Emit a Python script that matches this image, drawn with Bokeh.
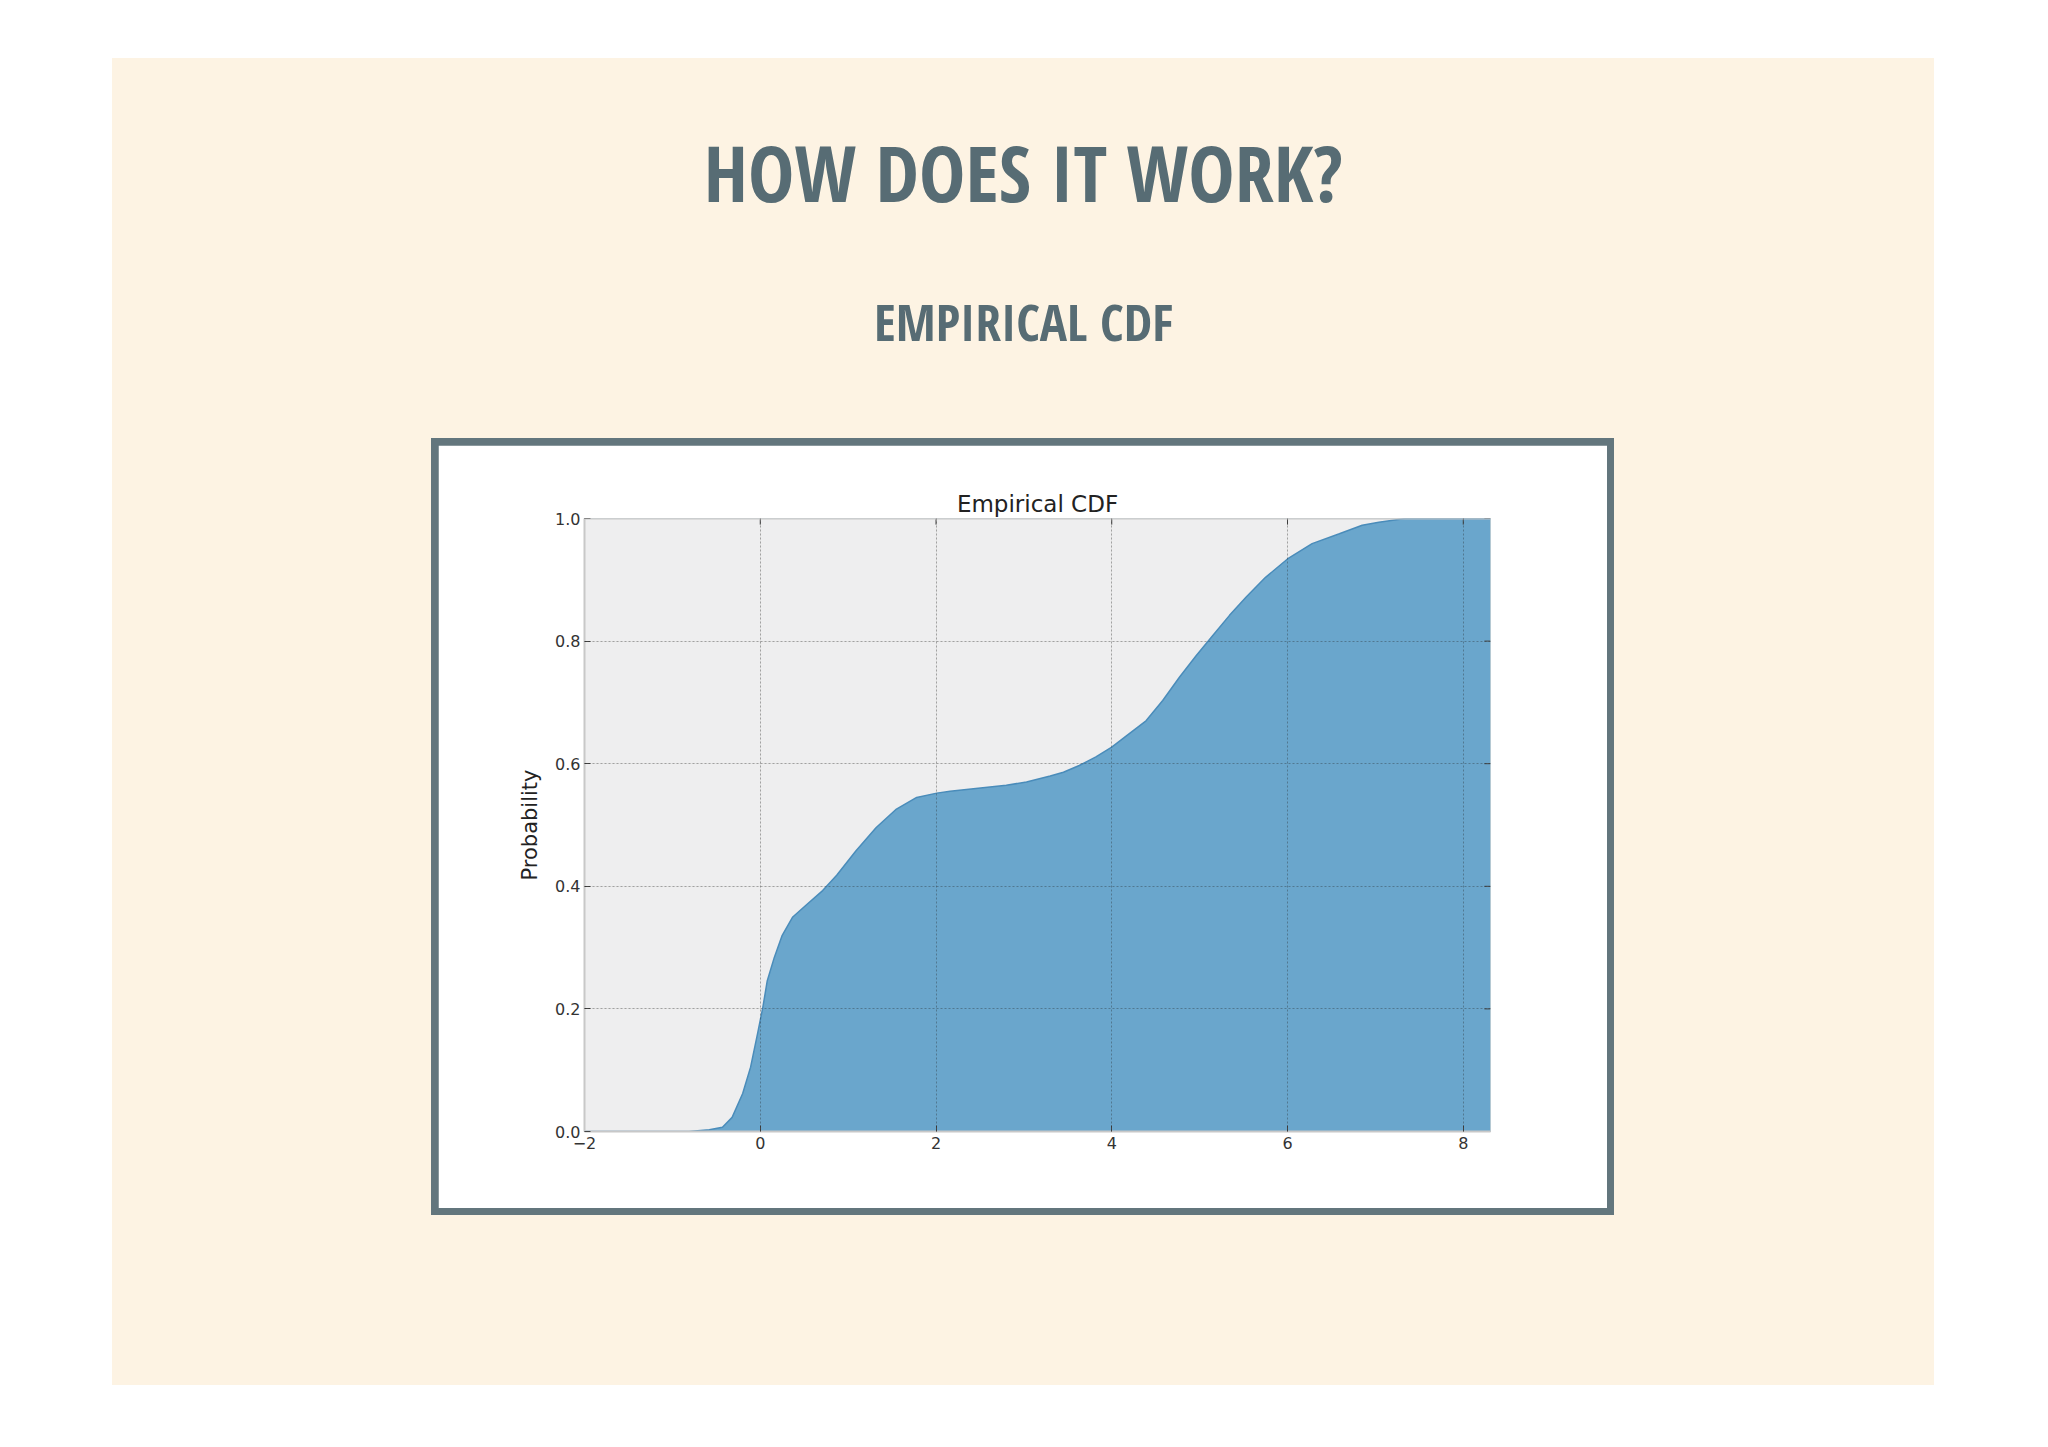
from bokeh.plotting import figure
from bokeh.models import Range1d, FixedTicker, LinearAxis, Title, Spacer, Grid, Span
from bokeh.layouts import column, row
from bokeh.core.properties import value
from bokeh.embed import file_html
from bokeh.resources import INLINE

# ---- data ----
cdf_x = [-2.0, -0.81, -0.58, -0.43, -0.32, -0.20, -0.11, -0.03, 0.03, 0.08,
         0.16, 0.25, 0.37, 0.52, 0.71, 0.87, 1.09, 1.32, 1.55, 1.78,
         2.01, 2.16, 2.48, 2.8, 3.03, 3.3, 3.45, 3.63, 3.82, 4.0,
         4.2, 4.39, 4.58, 4.77, 4.96, 5.15, 5.34, 5.53, 5.75, 6.0,
         6.28, 6.59, 6.85, 7.04, 7.34, 8.31]
cdf_y = [0.0, 0.0, 0.003, 0.007, 0.023, 0.062, 0.105, 0.16, 0.203, 0.246,
         0.284, 0.32, 0.35, 0.369, 0.393, 0.418, 0.458, 0.496, 0.526, 0.545,
         0.552, 0.555, 0.56, 0.565, 0.57, 0.58, 0.586, 0.597, 0.611, 0.627,
         0.649, 0.670, 0.703, 0.741, 0.776, 0.809, 0.842, 0.872, 0.904, 0.934,
         0.959, 0.975, 0.989, 0.994, 1.0, 1.0]
x_ticks = [-2, 0, 2, 4, 6, 8]
x_tick_labels = ["\u22122", "0", "2", "4", "6", "8"]
y_ticks = [0.0, 0.2, 0.4, 0.6, 0.8, 1.0]
y_tick_labels = ["0.0", "0.2", "0.4", "0.6", "0.8", "1.0"]
slide_title = "HOW DOES IT WORK?"
slide_subtitle = "EMPIRICAL CDF"
chart_title = "Empirical CDF"
y_label = "Probability"

X_MIN, X_MAX = -2, 8.31
Y_MIN, Y_MAX = 0, 1

CREAM = "#fdf3e3"
SLATE = "#576c74"
FRAME = "#63767d"
FILL = "#6aa6cc"
EDGE = "#4a8cba"
CONDENSED = value("Open Sans Condensed")

# ---- header with slide titles ----
W_SLIDE, H_SLIDE = 1822, 1327
H_HEAD = 380
head = figure(width=W_SLIDE, height=H_HEAD, output_backend="svg", toolbar_location=None,
              x_range=Range1d(0, W_SLIDE), y_range=Range1d(H_HEAD, 0),
              min_border=0, outline_line_color=None,
              background_fill_color=CREAM, border_fill_color=CREAM)
head.axis.visible = False
head.grid.visible = False
head.text(x=[W_SLIDE / 2], y=[113], text=[slide_title], text_font=CONDENSED,
          text_font_style="bold", text_font_size="78px", text_color=SLATE,
          text_align="center", text_baseline="alphabetic")
head.text(x=[W_SLIDE / 2], y=[262], text=[slide_subtitle], text_font=CONDENSED,
          text_font_style="bold", text_font_size="51px", text_color=SLATE,
          text_align="center", text_baseline="alphabetic")

# ---- chart ----
PW, PH = 1169, 763
BL, BR, BT, BB = 146, 117, 73, 77
p = figure(width=PW, height=PH, output_backend="svg", toolbar_location=None,
           x_range=Range1d(X_MIN, X_MAX), y_range=Range1d(Y_MIN, Y_MAX),
           min_border_left=BL, min_border_right=BR, min_border_top=BT, min_border_bottom=BB,
           background_fill_color="#eeeeef", border_fill_color="white",
           outline_line_color=None, x_axis_location=None, y_axis_location=None)

p.varea(x=cdf_x, y1=0, y2=cdf_y, fill_color=FILL, fill_alpha=1.0)
p.line(x=cdf_x, y=cdf_y, line_color=EDGE, line_width=1.5)

def style_axis(ax, labels, overrides, line_color):
    ax.ticker = FixedTicker(ticks=labels)
    ax.major_label_overrides = overrides
    ax.minor_tick_line_color = None
    ax.major_tick_in = 6
    ax.major_tick_out = 0
    ax.major_tick_line_color = "#444444"
    ax.axis_line_color = line_color
    ax.axis_line_width = 2
    ax.major_label_text_font = "DejaVu Sans"
    ax.major_label_text_font_size = "16px"
    ax.major_label_text_color = "#333333"
    ax.major_label_standoff = 5

xo = {t: l for t, l in zip(x_ticks, x_tick_labels)}
yo = {t: l for t, l in zip(y_ticks, y_tick_labels)}

bottom = LinearAxis()
style_axis(bottom, x_ticks, xo, "#c8c8c8")
p.add_layout(bottom, "below")

left = LinearAxis(axis_label=y_label)
style_axis(left, y_ticks, yo, "#c8c8c8")
left.major_label_standoff = 4
left.axis_label_text_font = "DejaVu Sans"
left.axis_label_text_font_size = "21px"
left.axis_label_text_font_style = "normal"
left.axis_label_text_color = "#222222"
left.axis_label_standoff = 10
p.add_layout(left, "left")

# top spine and inward ticks on top / right (matplotlib classic look)
p.add_layout(Span(location=Y_MAX, dimension="width", line_color="#c8c8c8", line_width=2))
tick_dx = 6 * (X_MAX - X_MIN) / (PW - BL - BR - 14)
tick_dy = 6 * (Y_MAX - Y_MIN) / (PH - BT - BB - 14)
p.segment(x0=x_ticks, y0=[Y_MAX] * len(x_ticks), x1=x_ticks, y1=[Y_MAX - tick_dy] * len(x_ticks),
          line_color="#444444", line_width=1)
p.segment(x0=[X_MAX] * len(y_ticks), y0=y_ticks, x1=[X_MAX - tick_dx] * len(y_ticks), y1=y_ticks,
          line_color="#444444", line_width=1)

p.add_layout(Title(text=chart_title, align="center", text_font="DejaVu Sans",
                   text_font_size="23px", text_font_style="normal",
                   text_color="#222222", standoff=4), "above")

for dim, ticks in ((0, x_ticks), (1, y_ticks)):
    g = Grid(dimension=dim, ticker=FixedTicker(ticks=ticks), grid_line_color="#222222",
             grid_line_alpha=0.35, grid_line_dash="2 2", grid_line_width=1, level="annotation")
    p.add_layout(g, "center")

p.margin = 7
box = column(p, styles={"background-color": FRAME})
mid = row(Spacer(width=319, height=777), box)
page = column(head, mid, Spacer(width=W_SLIDE, height=170),
              styles={"background-color": CREAM}, margin=(58, 0, 0, 112))

open("out.html", "w").write(file_html(page, INLINE))
